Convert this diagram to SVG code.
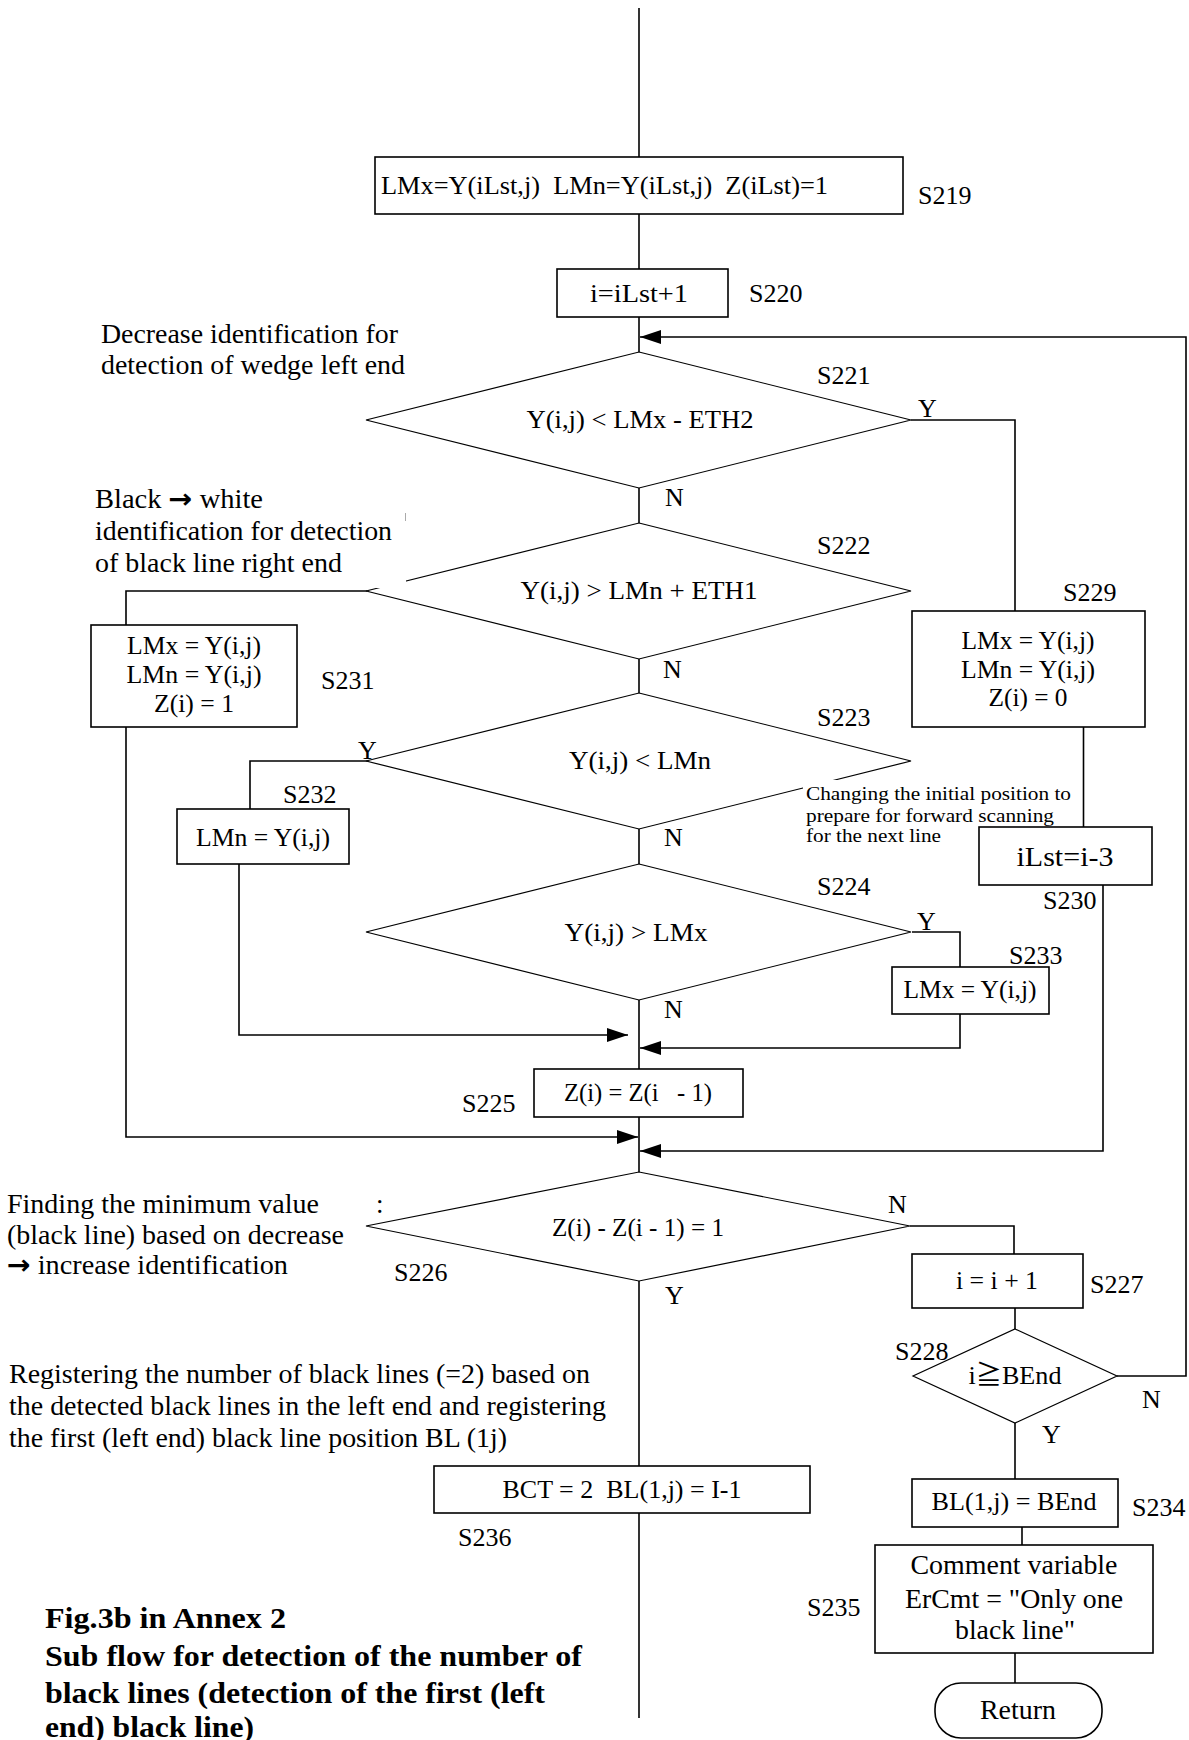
<svg xmlns="http://www.w3.org/2000/svg" width="1189" height="1740" viewBox="0 0 1189 1740">
<style>
.b{fill:#fff;stroke:#000;stroke-width:1.6}
.d{fill:#fff;stroke:#000;stroke-width:1.2}
.c{fill:none;stroke:#000;stroke-width:1.6}
.w{fill:#fff;stroke:none}
text{font-family:"Liberation Serif","DejaVu Serif","Noto Sans CJK JP",serif;font-size:26px;fill:#000}
.m{text-anchor:middle}
.s{font-size:26px}
.a{font-size:27px}
.n{font-size:19px}
.h{font-size:30px;font-weight:bold}
.ar{font-family:"DejaVu Sans",sans-serif;font-weight:bold}
</style>
<defs>
<marker id="ah" markerUnits="userSpaceOnUse" markerWidth="22" markerHeight="15" refX="21" refY="7" orient="auto"><path d="M0,0 L21,7 L0,14 z" fill="#000"/></marker>
</defs>
<rect width="1189" height="1740" fill="#fff"/>

<g id="connectors">
<path class="c" d="M639,8 V157"/>
<path class="c" d="M639,214 V269"/>
<path class="c" d="M639,317 V352"/>
<path class="c" d="M1117,1376 H1186 V337 H640" marker-end="url(#ah)"/>
<path class="c" d="M639,488 V523"/>
<path class="c" d="M911,420 H1015 V611"/>
<path class="c" d="M367,591 H126 V625"/>
<path class="c" d="M639,659 V693"/>
<path class="c" d="M368,761 H250 V809"/>
<path class="c" d="M639,829 V864"/>
<path class="c" d="M1083.5,727 V827"/>
<path class="c" d="M912,932 H960 V967"/>
<path class="c" d="M639,1000 V1069"/>
<path class="c" d="M239,864 V1035 H628" marker-end="url(#ah)"/>
<path class="c" d="M960,1014 V1048 H640" marker-end="url(#ah)"/>
<path class="c" d="M126,727 V1137 H638" marker-end="url(#ah)"/>
<path class="c" d="M1103,885 V1151 H640" marker-end="url(#ah)"/>
<path class="c" d="M639,1117 V1172"/>
<path class="c" d="M910,1226 H1014 V1254"/>
<path class="c" d="M639,1281 V1466"/>
<path class="c" d="M639,1513 V1718"/>
<path class="c" d="M1015,1308 V1329"/>
<path class="c" d="M1015,1423 V1479"/>
<path class="c" d="M1022,1527 V1545"/>
<path class="c" d="M1015,1653 V1683"/>
</g>

<g id="S219">
<rect class="b" x="375" y="157" width="528" height="57"/>
<text x="381" y="194" xml:space="preserve" textLength="447" lengthAdjust="spacingAndGlyphs">LMx=Y(iLst,j)  LMn=Y(iLst,j)  Z(iLst)=1</text>
<text class="s" x="918" y="204">S219</text>
</g>

<g id="S220">
<rect class="b" x="557" y="269" width="171" height="48"/>
<text class="m" x="639" y="302" textLength="98" lengthAdjust="spacingAndGlyphs">i=iLst+1</text>
<text class="s" x="749" y="302">S220</text>
</g>

<g id="note-wedge">
<text class="a" x="101" y="343" textLength="297" lengthAdjust="spacingAndGlyphs">Decrease identification for</text>
<text class="a" x="101" y="374" textLength="304" lengthAdjust="spacingAndGlyphs">detection of wedge left end</text>
</g>

<g id="S221">
<polygon class="d" points="639,352 911,420 639,488 366,420"/>
<text class="m" x="640" y="428" textLength="227" lengthAdjust="spacingAndGlyphs">Y(i,j) &lt; LMx - ETH2</text>
<text class="s" x="817" y="384">S221</text>
<text x="918" y="417">Y</text>
<text x="665" y="506">N</text>
</g>

<g id="S222">
<polygon class="d" points="639,523 911,591 639,659 366,591"/>
<text class="m" x="639" y="599" textLength="237" lengthAdjust="spacingAndGlyphs">Y(i,j) &gt; LMn + ETH1</text>
<text class="s" x="817" y="554">S222</text>
<text x="663" y="678">N</text>
</g>

<g id="note-black-white">
<rect class="w" x="90" y="485" width="316" height="103"/>
<line x1="405.5" y1="513" x2="405.5" y2="521" stroke="#aaa" stroke-width="1"/>
<text class="a" x="95" y="508" textLength="168" lengthAdjust="spacingAndGlyphs">Black <tspan class="ar">→</tspan> white</text>
<text class="a" x="95" y="540" textLength="297" lengthAdjust="spacingAndGlyphs">identification for detection</text>
<text class="a" x="95" y="572" textLength="247" lengthAdjust="spacingAndGlyphs">of black line right end</text>
</g>

<g id="S231">
<rect class="b" x="91" y="625" width="206" height="102"/>
<text class="m" x="194" y="654" textLength="134" lengthAdjust="spacingAndGlyphs">LMx = Y(i,j)</text>
<text class="m" x="194" y="683" textLength="135" lengthAdjust="spacingAndGlyphs">LMn = Y(i,j)</text>
<text class="m" x="194" y="712" textLength="80" lengthAdjust="spacingAndGlyphs">Z(i) = 1</text>
<text class="s" x="321" y="689">S231</text>
</g>

<g id="S229">
<rect class="b" x="912" y="611" width="233" height="116"/>
<text class="m" x="1028" y="649" textLength="133" lengthAdjust="spacingAndGlyphs">LMx = Y(i,j)</text>
<text class="m" x="1028" y="678" textLength="134" lengthAdjust="spacingAndGlyphs">LMn = Y(i,j)</text>
<text class="m" x="1028" y="706" textLength="79" lengthAdjust="spacingAndGlyphs">Z(i) = 0</text>
<text class="s" x="1063" y="601">S229</text>
</g>

<g id="S223">
<polygon class="d" points="639,693 911,761 639,829 366,761"/>
<text class="m" x="640" y="769" textLength="142" lengthAdjust="spacingAndGlyphs">Y(i,j) &lt; LMn</text>
<text class="s" x="817" y="726">S223</text>
<text x="358" y="759">Y</text>
<text x="664" y="846">N</text>
</g>

<g id="note-initial-position">
<rect class="w" x="803" y="780" width="262" height="66"/>
<text class="n" x="806" y="800" textLength="265" lengthAdjust="spacingAndGlyphs">Changing the initial position to</text>
<text class="n" x="806" y="822" textLength="248" lengthAdjust="spacingAndGlyphs">prepare for forward scanning</text>
<text class="n" x="806" y="842" textLength="135" lengthAdjust="spacingAndGlyphs">for the next line</text>
</g>

<g id="S232">
<rect class="b" x="177" y="809" width="172" height="55"/>
<text class="m" x="263" y="846" textLength="134" lengthAdjust="spacingAndGlyphs">LMn = Y(i,j)</text>
<text class="s" x="283" y="803">S232</text>
</g>

<g id="S230">
<rect class="b" x="979" y="827" width="173" height="58"/>
<text class="m" x="1065" y="866" style="font-size:28px" textLength="97" lengthAdjust="spacingAndGlyphs">iLst=i-3</text>
<text class="s" x="1043" y="909">S230</text>
</g>

<g id="S224">
<polygon class="d" points="639,864 911,932 639,1000 366,932"/>
<text class="m" x="636" y="941" textLength="143" lengthAdjust="spacingAndGlyphs">Y(i,j) &gt; LMx</text>
<text class="s" x="817" y="895">S224</text>
<text x="917" y="930">Y</text>
<text x="664" y="1018">N</text>
</g>

<g id="S233">
<rect class="b" x="892" y="967" width="157" height="47"/>
<text class="m" x="970" y="998" textLength="133" lengthAdjust="spacingAndGlyphs">LMx = Y(i,j)</text>
<text class="s" x="1009" y="964">S233</text>
</g>

<g id="S225">
<rect class="b" x="534" y="1069" width="209" height="48"/>
<text class="m" x="638" y="1101" xml:space="preserve" textLength="148" lengthAdjust="spacingAndGlyphs">Z(i) = Z(i   - 1)</text>
<text class="s" x="462" y="1112">S225</text>
</g>

<g id="note-minimum">
<text class="a" x="7" y="1213" textLength="312" lengthAdjust="spacingAndGlyphs">Finding the minimum value</text>
<text class="a" x="376" y="1213">:</text>
<text class="a" x="7" y="1244" textLength="337" lengthAdjust="spacingAndGlyphs">(black line) based on decrease</text>
<text class="a" x="7" y="1274" textLength="281" lengthAdjust="spacingAndGlyphs"><tspan class="ar">→</tspan> increase identification</text>
</g>

<g id="S226">
<polygon class="d" points="639,1172 910,1226 639,1281 366,1226"/>
<text class="m" x="638" y="1236" textLength="172" lengthAdjust="spacingAndGlyphs">Z(i) - Z(i - 1) = 1</text>
<text class="s" x="394" y="1281">S226</text>
<text x="888" y="1213">N</text>
<text x="665" y="1304">Y</text>
</g>

<g id="S227">
<rect class="b" x="912" y="1254" width="171" height="54"/>
<text class="m" x="997" y="1289" textLength="82" lengthAdjust="spacingAndGlyphs">i = i + 1</text>
<text class="s" x="1090" y="1293">S227</text>
</g>

<g id="S228">
<polygon class="d" points="1015,1329 1117,1376 1015,1423 913,1376"/>
<text class="m" x="1015" y="1384" textLength="93" lengthAdjust="spacingAndGlyphs">i≧BEnd</text>
<text class="s" x="895" y="1360">S228</text>
<text x="1142" y="1408">N</text>
<text x="1042" y="1443">Y</text>
</g>

<g id="note-register">
<text class="a" x="9" y="1383" textLength="581" lengthAdjust="spacingAndGlyphs">Registering the number of black lines (=2) based on</text>
<text class="a" x="9" y="1415" textLength="597" lengthAdjust="spacingAndGlyphs">the detected black lines in the left end and registering</text>
<text class="a" x="9" y="1447" textLength="498" lengthAdjust="spacingAndGlyphs">the first (left end) black line position BL (1j)</text>
</g>

<g id="S236">
<rect class="b" x="434" y="1466" width="376" height="47"/>
<text class="m" x="622" y="1498" xml:space="preserve" textLength="239" lengthAdjust="spacingAndGlyphs">BCT = 2  BL(1,j) = I-1</text>
<text class="s" x="458" y="1546">S236</text>
</g>

<g id="S234">
<rect class="b" x="912" y="1479" width="206" height="48"/>
<text class="m" x="1014" y="1510" textLength="165" lengthAdjust="spacingAndGlyphs">BL(1,j) = BEnd</text>
<text class="s" x="1132" y="1516">S234</text>
</g>

<g id="S235">
<rect class="b" x="875" y="1545" width="278" height="108"/>
<text class="m" x="1014" y="1574" style="font-size:27px" textLength="207" lengthAdjust="spacingAndGlyphs">Comment variable</text>
<text class="m" x="1014" y="1608" style="font-size:27px" textLength="218" lengthAdjust="spacingAndGlyphs">ErCmt = "Only one</text>
<text class="m" x="1015" y="1639" style="font-size:27px" textLength="120" lengthAdjust="spacingAndGlyphs">black line"</text>
<text class="s" x="807" y="1616">S235</text>
</g>

<g id="Return">
<rect class="b" x="935" y="1683" width="167" height="55" rx="26" ry="26"/>
<text class="m" x="1018" y="1719" style="font-size:27px" textLength="76" lengthAdjust="spacingAndGlyphs">Return</text>
</g>

<g id="title">
<text class="h" x="45" y="1628" textLength="241" lengthAdjust="spacingAndGlyphs">Fig.3b in Annex 2</text>
<text class="h" x="45" y="1666" textLength="537" lengthAdjust="spacingAndGlyphs">Sub flow for detection of the number of</text>
<text class="h" x="45" y="1703" textLength="500" lengthAdjust="spacingAndGlyphs">black lines (detection of the first (left</text>
<text class="h" x="45" y="1737" textLength="209" lengthAdjust="spacingAndGlyphs">end) black line)</text>
</g>
</svg>
